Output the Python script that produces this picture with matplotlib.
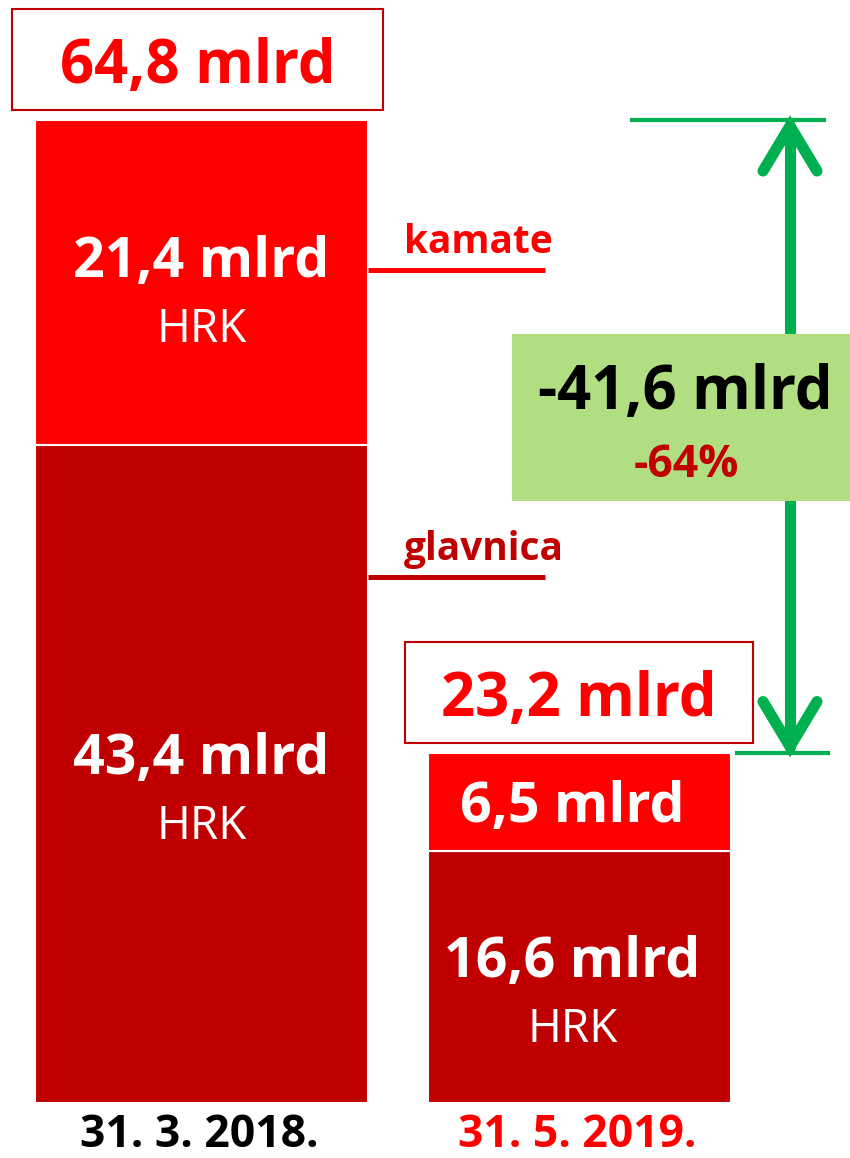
import matplotlib
matplotlib.use("Agg")
import matplotlib.pyplot as plt
from matplotlib.patches import Rectangle

# -----------------------------
# Data
# -----------------------------
datumi = ['31. 3. 2018.', '31. 5. 2019.']
glavnica = [43.4, 16.6]
kamate = [21.4, 6.5]
ukupno = [64.8, 23.2]
promjena = -41.6
promjena_pct = -64

# colours
RED = '#FF0000'
DARK_RED = '#C00000'
GREEN = '#00B050'
LIGHT_GREEN = '#B2DE82'

plt.rcParams['font.family'] = ['Open Sans', 'DejaVu Sans']


def fmt(v):
    return f"{v:.1f}".replace('.', ',') + " mlrd"


# -----------------------------
# Layout (pixels, figure is 850 x 1158)
# -----------------------------
W, H = 850, 1158
BASE_PX = 1103          # bar bottom
TOP_PX = 120            # top of first bar
k = (BASE_PX - TOP_PX) / ukupno[0]   # pixels per mlrd
PX = 1 / k                           # one pixel in data units

x_pos = [201.5, 579.5]
widths = [333, 303]
label_dx = [0, -7]      # small horizontal nudge of labels inside bars


def py(p):
    # pixel row (from top) -> data y
    return (BASE_PX - p) / k


fig = plt.figure(figsize=(W / 100, H / 100), dpi=100)
ax = fig.add_axes([0, 0, 1, 1])
ax.set_xlim(0, W)
ax.set_ylim(-(H - BASE_PX) / k, BASE_PX / k)
ax.axis('off')

# -----------------------------
# Stacked bars
# -----------------------------
ax.bar(x_pos, glavnica, width=widths, color=DARK_RED,
       edgecolor='white', linewidth=1.5, zorder=2)
ax.bar(x_pos, kamate, width=widths, bottom=glavnica, color=RED,
       edgecolor='white', linewidth=1.5, zorder=2)

tops = [g + c for g, c in zip(glavnica, kamate)]

# segment labels
for i in range(2):
    lx = x_pos[i] + label_dx[i]
    c_g = glavnica[i] / 2
    c_k = glavnica[i] + kamate[i] / 2
    # glavnica: value + HRK
    ax.annotate(fmt(glavnica[i]), (lx, c_g), xytext=(0, 0),
                textcoords='offset pixels', ha='center', va='baseline',
                color='white', fontsize=40, fontweight='bold', zorder=3)
    ax.annotate('HRK', (lx, c_g), xytext=(0, -65),
                textcoords='offset pixels', ha='center', va='baseline',
                color='white', fontsize=33, zorder=3)
    if i == 0:
        ax.annotate(fmt(kamate[i]), (lx, c_k), xytext=(0, 5),
                    textcoords='offset pixels', ha='center', va='baseline',
                    color='white', fontsize=40, fontweight='bold', zorder=3)
        ax.annotate('HRK', (lx, c_k), xytext=(0, -60),
                    textcoords='offset pixels', ha='center', va='baseline',
                    color='white', fontsize=33, zorder=3)
    else:
        ax.annotate(fmt(kamate[i]), (lx, c_k), xytext=(0, -20),
                    textcoords='offset pixels', ha='center', va='baseline',
                    color='white', fontsize=40, fontweight='bold', zorder=3)

# total boxes above bars
box_w = [371, 348]
box_x = [197.5, 579]
for i in range(2):
    y_lo = tops[i] + 10 * PX
    rect = Rectangle((box_x[i] - box_w[i] / 2, y_lo), box_w[i], 101 * PX,
                     facecolor='white', edgecolor=DARK_RED, linewidth=1.5,
                     zorder=2)
    ax.add_patch(rect)
    ax.text(box_x[i], y_lo + 27 * PX, fmt(ukupno[i]), ha='center',
            va='baseline', color=RED, fontsize=43, fontweight='bold', zorder=3)

# dates under bars
date_colors = ['black', RED]
for i in range(2):
    ax.text(x_pos[i] - 2, py(1147), datumi[i], ha='center', va='baseline',
            color=date_colors[i], fontsize=32, fontweight='bold')

# -----------------------------
# kamate / glavnica labels
# -----------------------------
ax.plot([368, 545], [py(270), py(270)], color=RED, lw=3.6,
        solid_capstyle='butt')
ax.text(404, py(253), 'kamate', ha='left', va='baseline', color=RED,
        fontsize=28, fontweight='bold')
ax.plot([368, 545], [py(577), py(577)], color=DARK_RED, lw=3.6,
        solid_capstyle='butt')
ax.text(404, py(560), 'glavnica', ha='left', va='baseline', color=DARK_RED,
        fontsize=28, fontweight='bold')

# -----------------------------
# Green difference arrow
# -----------------------------
ax_x = 790
ax.plot([632, 824], [tops[0], tops[0]], color=GREEN, lw=3, zorder=1)
ax.plot([737, 828], [tops[1], tops[1]], color=GREEN, lw=3, zorder=1)

tip_top = tops[0] - 6 * PX
tip_bot = tops[1] + 6 * PX
ax.plot([ax_x, ax_x], [tip_top, tip_bot], color=GREEN, lw=8,
        solid_capstyle='round', zorder=1)
ax.plot([ax_x - 27, ax_x, ax_x + 27],
        [tip_top - 45 * PX, tip_top, tip_top - 45 * PX],
        color=GREEN, lw=8, solid_capstyle='round', solid_joinstyle='miter',
        zorder=1)
ax.plot([ax_x - 27, ax_x, ax_x + 27],
        [tip_bot + 45 * PX, tip_bot, tip_bot + 45 * PX],
        color=GREEN, lw=8, solid_capstyle='round', solid_joinstyle='miter',
        zorder=1)

# green box with change
ax.add_patch(Rectangle((512, py(501)), 340, (501 - 334) * PX,
                       facecolor=LIGHT_GREEN, edgecolor='none', zorder=2))
ax.text(685, py(409), fmt(promjena), ha='center', va='baseline',
        color='black', fontsize=43, fontweight='bold', zorder=3)
ax.text(686, py(477), f"{promjena_pct}%", ha='center', va='baseline',
        color=DARK_RED, fontsize=32, fontweight='bold', zorder=3)

fig.savefig('out.png', dpi=100, facecolor='white')
